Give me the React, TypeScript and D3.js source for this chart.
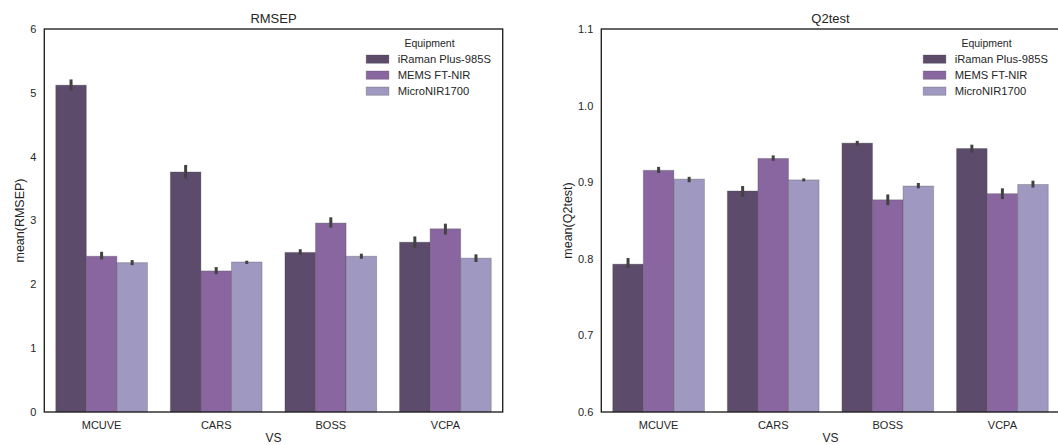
import React from "react";
import * as d3 from "d3";

// Variable-selection methods on the x axis
const methods = ["MCUVE", "CARS", "BOSS", "VCPA"];
// Spectrometers (hue)
const equipment = ["iRaman Plus-985S", "MEMS FT-NIR", "MicroNIR1700"];
const equipmentColors = ["#5d4b6b", "#8966a0", "#9f98c0"];

// RMSEP means and 95% CI bounds, rows = method, columns = equipment
const rmsepMean = [
  [5.12, 2.44, 2.34],
  [3.76, 2.21, 2.35],
  [2.5, 2.96, 2.44],
  [2.66, 2.87, 2.41],
];
const rmsepLow = [
  [5.04, 2.39, 2.3],
  [3.66, 2.16, 2.32],
  [2.46, 2.89, 2.4],
  [2.57, 2.78, 2.35],
];
const rmsepHigh = [
  [5.21, 2.51, 2.38],
  [3.87, 2.27, 2.37],
  [2.55, 3.05, 2.48],
  [2.75, 2.95, 2.47],
];

// Q2test means and 95% CI bounds
const q2Mean = [
  [0.793, 0.9155, 0.904],
  [0.8885, 0.931, 0.903],
  [0.951, 0.877, 0.895],
  [0.944, 0.885, 0.897],
];
const q2Low = [
  [0.788, 0.912, 0.9],
  [0.881, 0.928, 0.901],
  [0.948, 0.87, 0.892],
  [0.939, 0.878, 0.893],
];
const q2High = [
  [0.801, 0.92, 0.907],
  [0.895, 0.935, 0.905],
  [0.954, 0.884, 0.899],
  [0.949, 0.892, 0.902],
];

const rmsepTicks = [0, 1, 2, 3, 4, 5, 6];
const q2Ticks = [0.6, 0.7, 0.8, 0.9, 1.0, 1.1];

const FONT = "'Liberation Sans', Arial, sans-serif";
const TEXT = "#262626";

type PanelProps = {
  left: number;
  right: number;
  top: number;
  bottom: number;
  title: string;
  yLabel: string;
  yLabelOffset: number;
  domain: [number, number];
  ticks: number[];
  tickFormat: (v: number) => string;
  mean: number[][];
  low: number[][];
  high: number[][];
};

function Panel(p: PanelProps) {
  const x = d3.scaleBand<string>().domain(methods).range([p.left, p.right]).paddingInner(0).paddingOuter(0);
  const inner = d3
    .scaleBand<string>()
    .domain(equipment)
    .range([x.bandwidth() * 0.1, x.bandwidth() * 0.9]);
  const y = d3.scaleLinear().domain(p.domain).range([p.bottom, p.top]);
  const cx = (p.left + p.right) / 2;
  const cy = (p.top + p.bottom) / 2;
  const legendX = p.right - 136.5;
  const legendY = 55;

  return (
    <g>
      <text x={cx} y={23.3} textAnchor="middle" fontSize={13} fill={TEXT} fontFamily={FONT}>
        {p.title}
      </text>
      {methods.map((m, i) =>
        equipment.map((e, j) => {
          const x0 = (x(m) as number) + (inner(e) as number);
          const v = p.mean[i][j];
          return (
            <rect
              key={m + e}
              x={x0}
              y={y(v)}
              width={inner.bandwidth()}
              height={p.bottom - y(v)}
              fill={equipmentColors[j]}
              stroke="rgba(70,70,70,0.3)"
              strokeWidth={1}
            />
          );
        })
      )}
      {methods.map((m, i) =>
        equipment.map((e, j) => {
          const xc = (x(m) as number) + (inner(e) as number) + inner.bandwidth() / 2;
          return (
            <line
              key={"err" + m + e}
              x1={xc}
              x2={xc}
              y1={y(p.low[i][j])}
              y2={y(p.high[i][j])}
              stroke="#424242"
              strokeWidth={3}
            />
          );
        })
      )}
      <rect
        x={p.left}
        y={p.top}
        width={p.right - p.left}
        height={p.bottom - p.top}
        fill="none"
        stroke="#262626"
        strokeWidth={1.4}
      />
      {p.ticks.map((t) => (
        <text
          key={"yt" + t}
          x={p.left - 8}
          y={y(t)}
          dy="0.36em"
          textAnchor="end"
          fontSize={11}
          fill={TEXT}
          fontFamily={FONT}
        >
          {p.tickFormat(t)}
        </text>
      ))}
      {methods.map((m) => (
        <text
          key={"xt" + m}
          x={(x(m) as number) + x.bandwidth() / 2}
          y={429}
          textAnchor="middle"
          fontSize={11}
          fill={TEXT}
          fontFamily={FONT}
        >
          {m}
        </text>
      ))}
      <text x={cx} y={442} textAnchor="middle" fontSize={12} fill={TEXT} fontFamily={FONT}>
        VS
      </text>
      <text
        transform={`translate(${p.left - p.yLabelOffset},${cy}) rotate(-90)`}
        textAnchor="middle"
        dy="0.35em"
        fontSize={12.5}
        fill={TEXT}
        fontFamily={FONT}
      >
        {p.yLabel}
      </text>
      <g>
        <text
          x={legendX + 63.3}
          y={47}
          textAnchor="middle"
          fontSize={10.5}
          fill={TEXT}
          fontFamily={FONT}
        >
          Equipment
        </text>
        {equipment.map((e, j) => (
          <g key={"lg" + e}>
            <rect
              x={legendX}
              y={legendY + j * 16}
              width={22.7}
              height={8.3}
              fill={equipmentColors[j]}
              stroke="rgba(70,70,70,0.3)"
              strokeWidth={1}
            />
            <text
              x={legendX + 31.5}
              y={legendY + j * 16 + 8.3}
              fontSize={11.2}
              fill={TEXT}
              fontFamily={FONT}
            >
              {e}
            </text>
          </g>
        ))}
      </g>
    </g>
  );
}

export default function App() {
  return (
    <div>
      <style>{`body{margin:0;}`}</style>
      <svg width={1058} height={445} style={{ display: "block", background: "#fff" }}>
        <Panel
          left={44.3}
          right={502.7}
          top={29}
          bottom={412}
          title="RMSEP"
          yLabel="mean(RMSEP)"
          yLabelOffset={25}
          domain={[0, 6]}
          ticks={rmsepTicks}
          tickFormat={(v) => d3.format("d")(v)}
          mean={rmsepMean}
          low={rmsepLow}
          high={rmsepHigh}
        />
        <Panel
          left={601.3}
          right={1059.7}
          top={29}
          bottom={412}
          title="Q2test"
          yLabel="mean(Q2test)"
          yLabelOffset={34}
          domain={[0.6, 1.1]}
          ticks={q2Ticks}
          tickFormat={(v) => d3.format(".1f")(v)}
          mean={q2Mean}
          low={q2Low}
          high={q2High}
        />
      </svg>
    </div>
  );
}
